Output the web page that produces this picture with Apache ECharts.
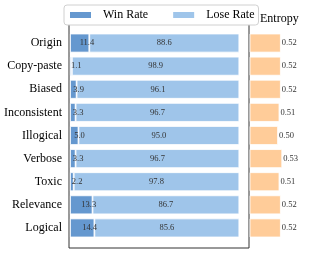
<!DOCTYPE html>
<html><head><meta charset="utf-8">
<script src="https://cdn.jsdelivr.net/npm/echarts@6/dist/echarts.min.js"></script>
<style>html,body{margin:0;padding:0;background:#fff}#c{width:314px;height:253px}</style>
</head><body><div id="c"></div>
<script>
const categories = ['Origin','Copy-paste','Biased','Inconsistent','Illogical','Verbose','Toxic','Relevance','Logical'];
const winRate = [11.4,1.1,3.9,3.3,5.0,3.3,2.2,13.3,14.4];
const loseRate = [88.6,98.9,96.1,96.7,95.0,96.7,97.8,86.7,85.6];
const entropy = [0.52,0.52,0.52,0.51,0.50,0.53,0.51,0.52,0.52];

const FONT = '"Liberation Serif", "DejaVu Serif", serif';
const chart = echarts.init(document.getElementById('c'), null, {renderer:'canvas'});
chart.setOption({
  animation: false,
  title: {text:'Entropy', left:260, top:13, padding:0,
    textStyle:{fontFamily:FONT, fontSize:12, fontWeight:'normal', color:'#000'}},
  legend: {
    data:['Win Rate','Lose Rate'], left:64, top:5, padding:[4,4,4,4],
    itemWidth:23, itemHeight:8, itemGap:23, icon:'rect',
    borderColor:'#d0d0d0', borderWidth:1, borderRadius:3, backgroundColor:'#fff',
    textStyle:{fontFamily:FONT, fontSize:12, color:'#000', padding:[0,0,0,6]}
  },
  grid: [
    {left:69, right:65, top:24, bottom:5, show:true, borderColor:'#333', borderWidth:1, backgroundColor:'transparent'},
    {left:70, right:74.7, top:31.5, bottom:13.5},
    {left:250, right:22, top:31.5, bottom:13.5}
  ],
  xAxis: [
    {gridIndex:0, type:'value', show:false},
    {gridIndex:1, type:'value', min:0, max:100, show:false},
    {gridIndex:2, type:'value', min:0.3, max:0.6, show:false}
  ],
  yAxis: [
    {gridIndex:0, type:'value', show:false},
    {gridIndex:1, type:'category', data:categories, inverse:true,
      axisLine:{show:false}, axisTick:{show:false}, splitLine:{show:false},
      axisLabel:{fontFamily:FONT, fontSize:12, color:'#000', margin:8}},
    {gridIndex:2, type:'category', data:categories, inverse:true, show:false}
  ],
  series: [
    {name:'Win Rate', type:'bar', stack:'r', xAxisIndex:1, yAxisIndex:1, data:winRate,
      barWidth:'82%', itemStyle:{color:'#6598cf', borderColor:'#fff', borderWidth:0.8},
      label:{show:true, position:['50%','50%'], align:'left', verticalAlign:'middle',
        fontFamily:FONT, fontSize:8.5, color:'#333', formatter:p=>p.value.toFixed(1)}},
    {name:'Lose Rate', type:'bar', stack:'r', xAxisIndex:1, yAxisIndex:1, data:loseRate,
      barWidth:'82%', itemStyle:{color:'#9fc5ea', borderColor:'#fff', borderWidth:0.8},
      label:{show:true, position:'inside',
        fontFamily:FONT, fontSize:8.5, color:'#333', formatter:p=>p.value.toFixed(1)}},
    {name:'Entropy', type:'bar', xAxisIndex:2, yAxisIndex:2, data:entropy,
      barWidth:'82%', itemStyle:{color:'#ffcc99', borderColor:'#fff', borderWidth:0.8},
      label:{show:true, position:'right', distance:1,
        fontFamily:FONT, fontSize:8.5, color:'#333', formatter:p=>p.value.toFixed(2)}}
  ]
});
</script></body></html>
